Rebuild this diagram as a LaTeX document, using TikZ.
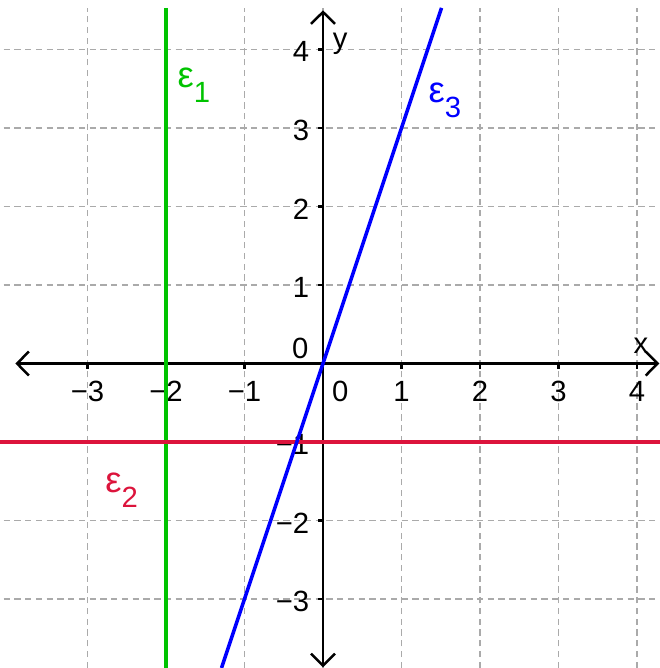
\documentclass[tikz,border=0pt]{standalone}
\usepackage{fontspec}
\setmainfont{Liberation Sans}
\usetikzlibrary{arrows.meta}
\definecolor{ggreen}{RGB}{0,195,0}
\definecolor{gred}{RGB}{220,20,60}
\definecolor{gblue}{RGB}{0,0,255}
\definecolor{ggrid}{RGB}{170,170,170}
\newcommand{\bigeps}{{\fontsize{13.2}{15}\selectfont ε}}
\begin{document}
\begin{tikzpicture}[x=1cm,y=1cm,
  font=\fontsize{10.6}{13}\selectfont,
  gridline/.style={ggrid, line width=0.45pt, dash pattern=on 2.3pt off 1.6pt},
  axisline/.style={line width=0.9pt, {Straight Barb[length=4.3pt,width=8.7pt,line width=0.9pt]}-{Straight Barb[length=4.3pt,width=8.7pt,line width=0.9pt]}},
  tickmark/.style={line width=0.9pt},
  curve/.style={line width=1.3pt},
  lbl/.style={inner sep=0pt},
  eps/.style={inner sep=0pt, anchor=base west}]
\useasboundingbox (-4.115,-3.879) rectangle (4.293,4.631);
% grid
\foreach \x in {-3,...,4} \draw[gridline] (\x,-3.879) -- (\x,4.53);
\foreach \y in {-3,-2,-1,1,2,3,4} \draw[gridline] (-4.07,\y) -- (4.293,\y);
% axes
\coordinate (xl) at (-3.92,0);
\coordinate (xr) at (4.285,0);
\coordinate (yb) at (0,-3.87);
\coordinate (yt) at (0,4.50);
\draw[axisline] (xl) -- (xr);
\draw[axisline] (yb) -- (yt);
\foreach \x in {-3,...,4} \draw[tickmark] (\x,0) -- (\x,-0.065);
\foreach \y in {-3,...,4} \draw[tickmark] (0,\y) -- (-0.065,\y);
% tick labels
\foreach \x/\t in {-3/−3,-2/−2,-1/−1,1/1,2/2,3/3,4/4} \node[lbl] at (\x,-0.35) {\t};
\foreach \y/\t in {-3/−3,-2/−2,-1/−1,1/1,2/2,3/3,4/4} \node[lbl, anchor=east] at (-0.17,\y-0.03) {\t};
\node[lbl] (o1) at (0.22,-0.35) {0};
\node[lbl] (o2) at (-0.29,0.19) {0};
\node[lbl] (xlab) at (4.05,0.23) {x};
\node[lbl] (ylab) at (0.22,4.07) {y};
% lines
\draw[curve, ggreen] (-2,4.53) -- (-2,-3.879);
\draw[curve, gred] (-4.115,-1) -- (4.293,-1);
\draw[curve, gblue] (1.51,4.53) -- (-1.293,-3.879);
% line labels
\node[eps, ggreen] (e1) at (-1.86,3.52) {\bigeps\raisebox{-5.6pt}{1}};
\node[eps, gred] (e2) at (-2.78,-1.64) {\bigeps\raisebox{-5.6pt}{2}};
\node[eps, gblue] (e3) at (1.34,3.33) {\bigeps\raisebox{-5.6pt}{3}};
\end{tikzpicture}
\end{document}
